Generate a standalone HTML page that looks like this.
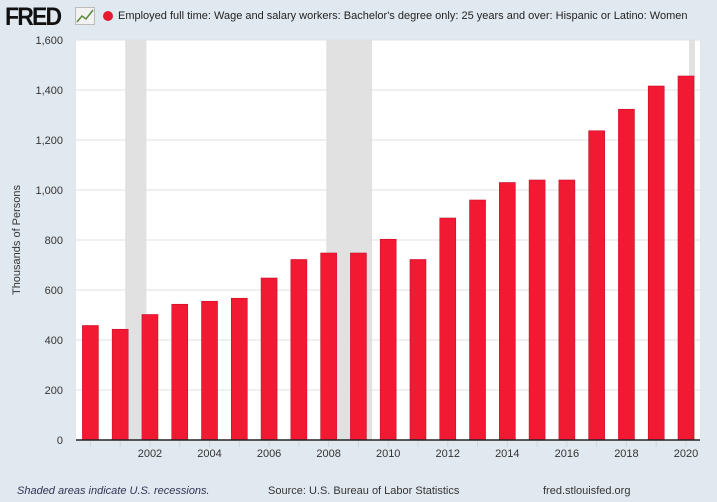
<!DOCTYPE html>
<html><head><meta charset="utf-8">
<style>
body{margin:0;width:717px;height:502px;background:#e1e9f0;font-family:"Liberation Sans",sans-serif;overflow:hidden;position:relative}
.fred{position:absolute;left:5px;top:3px;font-weight:bold;font-size:25px;letter-spacing:-2px;color:#111;transform:scaleX(0.92);transform-origin:left top;white-space:nowrap}
.title{position:absolute;left:118px;top:10px;font-size:11px;color:#222;white-space:nowrap}
.dot{position:absolute;left:103px;top:11px;width:10px;height:10px;border-radius:50%;background:#e51c30}
.foot{position:absolute;top:485px;font-size:11px;color:#333}
</style></head><body>
<div class="fred">FRED</div>
<svg style="position:absolute;left:75px;top:7px" width="20" height="18"><rect x="0.5" y="0.5" width="19" height="17" fill="#f2f2f2" stroke="#bbb"/><polyline points="2,15 7,9 11,12 18,3" fill="none" stroke="#5a8a3a" stroke-width="1.5"/></svg>
<div class="dot"></div>
<div class="title">Employed full time: Wage and salary workers: Bachelor's degree only: 25 years and over: Hispanic or Latino: Women</div>
<svg id="c" width="717" height="502" style="position:absolute;left:0;top:0"></svg>
<div class="foot" style="left:17px;font-style:italic;color:#335">Shaded areas indicate U.S. recessions.</div>
<div class="foot" style="left:268px">Source: U.S. Bureau of Labor Statistics</div>
<div class="foot" style="left:543px">fred.stlouisfed.org</div>
<script>
const years=[2000,2001,2002,2003,2004,2005,2006,2007,2008,2009,2010,2011,2012,2013,2014,2015,2016,2017,2018,2019,2020];
const values=[458,443,502,543,555,567,648,722,748,748,803,722,888,960,1030,1040,1040,1237,1323,1416,1456];
const yTicks=[0,200,400,600,800,1000,1200,1400,1600];
const xTicks=[2002,2004,2006,2008,2010,2012,2014,2016,2018,2020];
const recessions=[[2001.17,2001.88],[2007.92,2009.46],[2020.1,2020.3]];
const NS='http://www.w3.org/2000/svg',svg=document.getElementById('c');
const L=76,R=700,T=40,B=440;
const x=y=>90.4+(y-2000)*29.78;
const yv=v=>B-(v/1600)*(B-T);
function mk(t,a){const e=document.createElementNS(NS,t);for(const k in a)e.setAttribute(k,a[k]);svg.appendChild(e);return e;}
let e=mk('rect',{x:L,y:T,width:R-L,height:B-T,fill:'#fff'});


recessions.forEach(r=>{const el=mk('rect',{x:x(r[0]),y:T,width:x(r[1])-x(r[0]),height:B-T,fill:'#e1e1e1'});

});
yTicks.forEach(v=>{if(v>0){const g=mk('line',{x1:L,x2:R,y1:yv(v),y2:yv(v),stroke:'#e0e0e0'});

}
const t=mk('text',{x:63,y:yv(v)+4,'text-anchor':'end','font-size':'11',fill:'#333'});t.textContent=v.toLocaleString('en-US');

});
years.forEach((yr,i)=>{const b=mk('rect',{x:x(yr)-8,y:yv(values[i]),width:16,height:B-yv(values[i]),fill:'#f21a32',stroke:'#c8102a','stroke-width':'0.6'});

});
e=mk('line',{x1:L,x2:R,y1:B,y2:B,stroke:'#222','stroke-width':'1.5'});


years.forEach(yr=>{const tk=mk('line',{x1:x(yr),x2:x(yr),y1:B+1,y2:B+7,stroke:'#ccd6e0'});

});
xTicks.forEach(yr=>{const t=mk('text',{x:x(yr),y:457,'text-anchor':'middle','font-size':'11',fill:'#333'});t.textContent=yr;

});
e=mk('text',{x:0,y:0,transform:'translate(20,240) rotate(-90)','text-anchor':'middle','font-size':'11',fill:'#333'});e.textContent='Thousands of Persons';


</script>
</body></html>
